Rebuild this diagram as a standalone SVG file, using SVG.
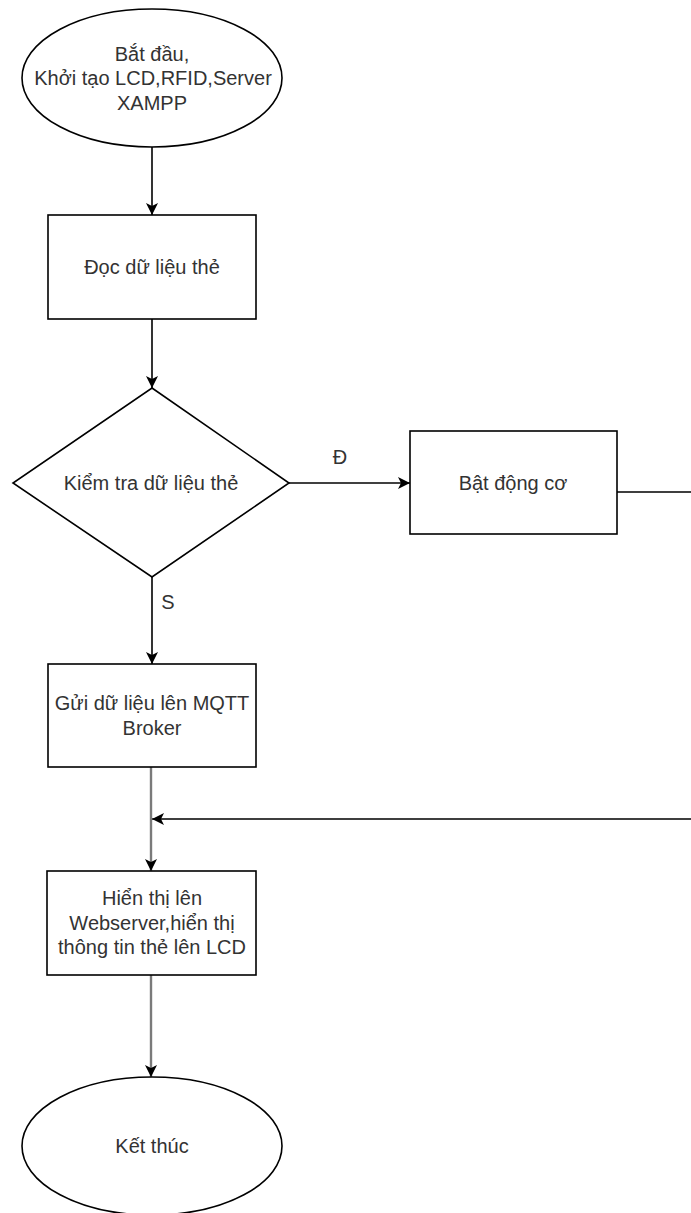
<svg xmlns="http://www.w3.org/2000/svg" width="691" height="1213" viewBox="0 0 691 1213">
  <defs>
    <style>
      .shape { fill: #ffffff; stroke: #000000; stroke-width: 1.6; }
      .edge { fill: none; stroke: #000000; stroke-width: 1.6; }
      .edge-gray { fill: none; stroke: #7a7a7a; stroke-width: 2.4; }
      .label { font-family: "Liberation Sans", Arial, sans-serif; font-size: 20px; fill: #333333; text-anchor: middle; dominant-baseline: central; }
    </style>
    <marker id="arrow" markerUnits="userSpaceOnUse" markerWidth="14" markerHeight="14" viewBox="0 0 14 14" refX="13" refY="7" orient="auto">
      <path d="M1,1 L13,7 L1,13 L4,7 Z" fill="#000000"/>
    </marker>
  </defs>

  <rect width="691" height="1213" fill="#ffffff"/>

  <!-- connectors -->
  <g id="connectors">
    <path class="edge" d="M152,147 V215" marker-end="url(#arrow)"/>
    <path class="edge" d="M152,319 V388" marker-end="url(#arrow)"/>
    <path class="edge" d="M289,483 H410" marker-end="url(#arrow)"/>
    <text class="label" x="340" y="457">Đ</text>
    <path class="edge" d="M152,577 V664" marker-end="url(#arrow)"/>
    <text class="label" x="168" y="602">S</text>
    <path class="edge" d="M617,492 H710 V819 H152" marker-end="url(#arrow)"/>
    <path class="edge-gray" d="M151,767 V871" marker-end="url(#arrow)"/>
    <path class="edge-gray" d="M151,975 V1077" marker-end="url(#arrow)"/>
  </g>

  <g id="start">
    <ellipse class="shape" cx="152" cy="78" rx="130" ry="69"/>
    <text class="label" x="152" y="53.5">Bắt đầu,</text>
    <text class="label" x="153" y="78">Khởi tạo LCD,RFID,Server</text>
    <text class="label" x="152" y="102.5">XAMPP</text>
  </g>

  <g id="read-card">
    <rect class="shape" x="48" y="215" width="208" height="104"/>
    <text class="label" x="152" y="267">Đọc dữ liệu thẻ</text>
  </g>

  <g id="check-card">
    <polygon class="shape" points="152,388 289,483 152,577 13,483"/>
    <text class="label" x="151" y="483">Kiểm tra dữ liệu thẻ</text>
  </g>

  <g id="motor-on">
    <rect class="shape" x="410" y="431" width="207" height="103"/>
    <text class="label" x="513" y="483">Bật động cơ</text>
  </g>

  <g id="send-mqtt">
    <rect class="shape" x="48" y="664" width="208" height="103"/>
    <text class="label" x="152" y="703">Gửi dữ liệu lên MQTT</text>
    <text class="label" x="152" y="728">Broker</text>
  </g>

  <g id="display">
    <rect class="shape" x="47" y="871" width="209" height="104"/>
    <text class="label" x="152" y="898">Hiển thị lên</text>
    <text class="label" x="152" y="922.5">Webserver,hiển thị</text>
    <text class="label" x="152" y="947">thông tin thẻ lên LCD</text>
  </g>

  <g id="end">
    <ellipse class="shape" cx="152" cy="1146" rx="130" ry="69"/>
    <text class="label" x="152" y="1146">Kết thúc</text>
  </g>
</svg>
